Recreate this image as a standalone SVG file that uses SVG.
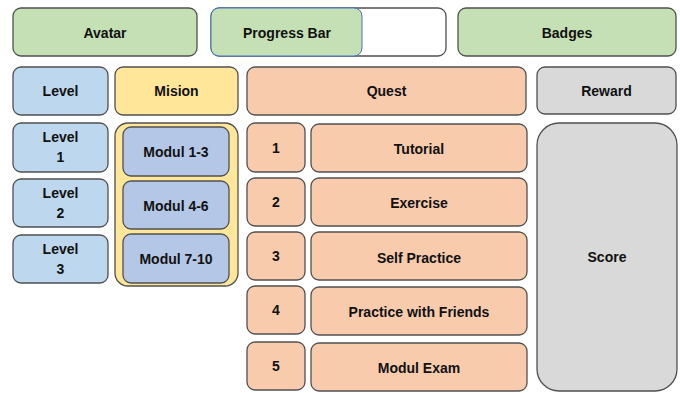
<svg xmlns="http://www.w3.org/2000/svg" width="680" height="393" viewBox="0 0 680 393">
<style>
rect{stroke:#505050;stroke-width:1.3}
.g{fill:#C5E0B4}.b{fill:#BDD7EE}.y{fill:#FFE699}.o{fill:#F8CBAD}.gr{fill:#D9D9D9}.m{fill:#B4C7E7}.w{fill:#FFFFFF}
text{font-family:"Liberation Sans",Arial,sans-serif;font-weight:bold;font-size:14px;fill:#111;text-anchor:middle;dominant-baseline:central}
</style>
<rect width="680" height="393" fill="#fff" style="stroke:none"/>
<g id="avatar"><rect class="g" x="13" y="8" width="184" height="48" rx="8"/><text x="105" y="33">Avatar</text></g>
<g id="progress"><rect class="w" x="211" y="8" width="235" height="48" rx="8"/><rect class="g" x="211" y="8" width="151" height="48" rx="8" style="stroke:#4472C4;stroke-width:1"/><text x="287" y="33">Progress Bar</text></g>
<g id="badges"><rect class="g" x="458" y="8" width="218" height="48" rx="8"/><text x="567" y="33">Badges</text></g>
<g id="level"><rect class="b" x="13" y="67" width="95" height="48" rx="8"/><text x="60.5" y="91">Level</text></g>
<g id="mision"><rect class="y" x="115" y="67" width="123" height="48" rx="8"/><text x="176.5" y="91">Mision</text></g>
<g id="quest"><rect class="o" x="247" y="67" width="279" height="48" rx="8"/><text x="386.5" y="91">Quest</text></g>
<g id="reward"><rect class="gr" x="537" y="67" width="139" height="47" rx="8"/><text x="606.5" y="90.5">Reward</text></g>
<g id="level1"><rect class="b" x="13" y="123" width="95" height="49" rx="8"/><text x="60.5" y="137">Level</text><text x="60.5" y="157">1</text></g>
<g id="level2"><rect class="b" x="13" y="179" width="95" height="48" rx="8"/><text x="60.5" y="193">Level</text><text x="60.5" y="213">2</text></g>
<g id="level3"><rect class="b" x="13" y="235" width="95" height="48" rx="8"/><text x="60.5" y="249">Level</text><text x="60.5" y="269">3</text></g>
<g id="mision-box"><rect class="y" x="115" y="123" width="123" height="163" rx="13"/></g>
<g id="modul1"><rect class="m" x="123" y="127" width="106" height="49" rx="8"/><text x="176" y="152">Modul 1-3</text></g>
<g id="modul2"><rect class="m" x="123" y="181" width="106" height="48" rx="8"/><text x="176" y="206">Modul 4-6</text></g>
<g id="modul3"><rect class="m" x="123" y="234" width="106" height="49" rx="8"/><text x="176" y="259">Modul 7-10</text></g>
<g id="q1"><rect class="o" x="247" y="123" width="58" height="49" rx="8"/><text x="276" y="148">1</text></g>
<g id="tutorial"><rect class="o" x="311" y="124" width="216" height="48" rx="8"/><text x="419" y="149">Tutorial</text></g>
<g id="q2"><rect class="o" x="247" y="178" width="58" height="48" rx="8"/><text x="276" y="202">2</text></g>
<g id="exercise"><rect class="o" x="311" y="178" width="216" height="48" rx="8"/><text x="419" y="203">Exercise</text></g>
<g id="q3"><rect class="o" x="247" y="232" width="58" height="48" rx="8"/><text x="276" y="256">3</text></g>
<g id="self"><rect class="o" x="311" y="232" width="216" height="48" rx="8"/><text x="419" y="258">Self Practice</text></g>
<g id="q4"><rect class="o" x="247" y="286" width="58" height="48" rx="8"/><text x="276" y="310">4</text></g>
<g id="friends"><rect class="o" x="311" y="287" width="216" height="48" rx="8"/><text x="419" y="312">Practice with Friends</text></g>
<g id="q5"><rect class="o" x="247" y="342" width="58" height="48" rx="8"/><text x="276" y="366">5</text></g>
<g id="exam"><rect class="o" x="311" y="343" width="216" height="48" rx="8"/><text x="419" y="368">Modul Exam</text></g>
<g id="score"><rect class="gr" x="537" y="123" width="140" height="268" rx="22"/><text x="607" y="257">Score</text></g>
<g id="connectors"/>
</svg>
